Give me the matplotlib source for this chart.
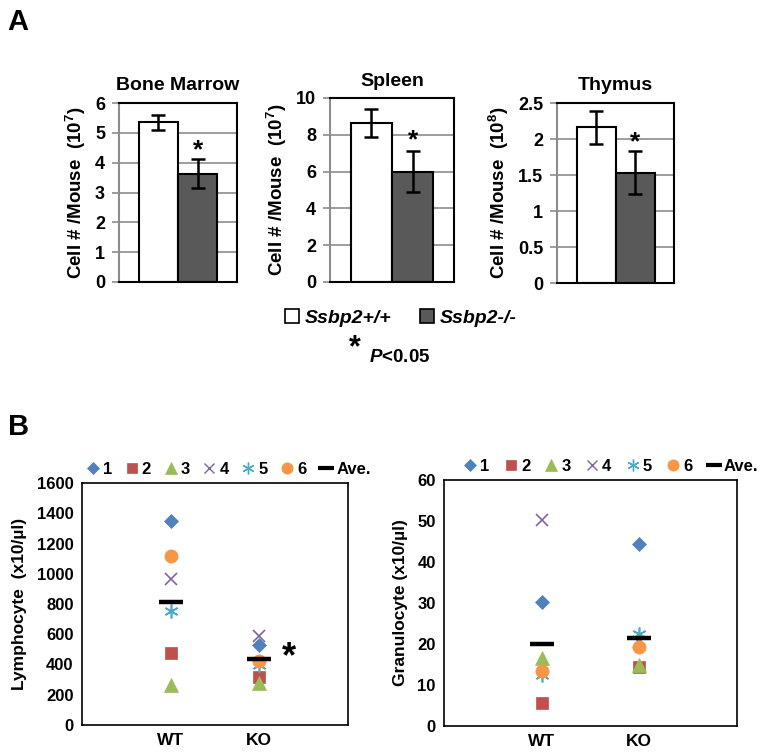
import matplotlib
matplotlib.use("Agg")
import matplotlib.pyplot as plt
from matplotlib.lines import Line2D
from matplotlib.patches import Patch

plt.rcParams["font.family"] = ["Liberation Sans", "DejaVu Sans"]
plt.rcParams["font.weight"] = "bold"
plt.rcParams["mathtext.fontset"] = "custom"
plt.rcParams["mathtext.rm"] = "Liberation Sans:bold"
plt.rcParams["mathtext.it"] = "Liberation Sans:bold:italic"
plt.rcParams["mathtext.bf"] = "Liberation Sans:bold"

# panel A: cell counts per mouse
organs = ["Bone Marrow", "Spleen", "Thymus"]
organ_units = ["$(10^7)$", "$(10^7)$", "$(10^8)$"]
wt_mean = [5.35, 8.65, 2.16]
wt_err = [0.25, 0.75, 0.23]
ko_mean = [3.63, 6.0, 1.53]
ko_err = [0.48, 1.1, 0.30]
organ_ymax = [6, 10, 2.5]
organ_ystep = [1, 2, 0.5]
star_y = [4.4, 7.7, 1.96]

# panel B: blood counts, six mice per genotype
genotypes = ["WT", "KO"]
mice = ["1", "2", "3", "4", "5", "6"]
lymph_wt = [1350, 477, 262, 965, 753, 1115]
lymph_ko = [528, 320, 276, 589, 397, 426]
lymph_ave = [815, 437]
gran_wt = [30.3, 5.6, 16.6, 50.2, 12.4, 13.4]
gran_ko = [44.3, 14.3, 15.0, 20.5, 22.4, 19.3]
gran_ave = [19.9, 21.5]

colors = ["#4F81BD", "#C0504D", "#9BBB59", "#8064A2", "#4BACC6", "#F79646"]
markers = ["D", "s", "^", "x", (6, 2, 0), "o"]
msizes = [7.5, 9, 9.5, 9, 10, 9.5]

W, H = 762, 753
fig = plt.figure(figsize=(W / 100, H / 100), dpi=100)


def box(l, r, t, b):
    return [l / W, 1 - b / H, (r - l) / W, (b - t) / H]


def is_thin(m):
    return m == "x" or isinstance(m, tuple)


a_boxes = [box(119, 237, 103, 282), box(330, 454, 98, 282), box(557, 674, 103, 283)]

for i, name in enumerate(organs):
    ax = fig.add_axes(a_boxes[i])
    ax.set_axisbelow(True)
    ax.bar([0], [wt_mean[i]], width=1.0, color="white", edgecolor="black", lw=1.5,
           yerr=[wt_err[i]], capsize=5, error_kw=dict(lw=1.8, capthick=1.8))
    ax.bar([1], [ko_mean[i]], width=1.0, color="#595959", edgecolor="black", lw=1.5,
           yerr=[ko_err[i]], capsize=5, error_kw=dict(lw=1.8, capthick=1.8))
    ax.text(1, star_y[i], "*", ha="center", va="center", fontsize=19)
    ax.set_xlim(-1, 2)
    ax.set_ylim(0, organ_ymax[i])
    n = int(round(organ_ymax[i] / organ_ystep[i]))
    ticks = [organ_ystep[i] * k for k in range(n + 1)]
    ax.set_yticks(ticks)
    ax.set_yticklabels(["%g" % t for t in ticks], fontsize=13, fontweight="bold")
    ax.set_xticks([])
    ax.yaxis.grid(True, color="#8C8C8C", lw=1.2)
    ax.tick_params(axis="y", length=5, width=1.2, color="#8C8C8C", pad=5)
    for s in ["top", "right", "bottom"]:
        ax.spines[s].set_color("black")
        ax.spines[s].set_linewidth(1.5)
    ax.spines["left"].set_color("#8C8C8C")
    ax.spines["left"].set_linewidth(1.5)
    ax.set_title(name, fontsize=14, fontweight="bold", pad=9)
    ax.set_ylabel("Cell # /Mouse  " + organ_units[i], fontsize=13.5, fontweight="bold",
                  labelpad=5)

# legend for panel A
fig.legend(
    handles=[Patch(facecolor="white", edgecolor="black", lw=1.2),
             Patch(facecolor="#595959", edgecolor="black", lw=1.2)],
    labels=["Ssbp2+/+", "Ssbp2-/-"], ncol=2, frameon=False,
    loc="center", bbox_to_anchor=(401 / W, 1 - 318 / H),
    handlelength=0.7, handleheight=0.7, handletextpad=0.3, columnspacing=1.5,
    prop=dict(size=14, weight="bold", style="italic"))

fig.text(355 / W, 1 - 348 / H, "*", fontsize=22, fontweight="bold", ha="center", va="center")
fig.text(369 / W, 1 - 357 / H, "$\\mathit{P}$<0.05", fontsize=13.5, fontweight="bold",
         ha="left", va="center")

fig.text(7 / W, 1 - 22 / H, "A", fontsize=21, fontweight="bold", ha="left", va="center")
fig.text(8 / W, 1 - 427 / H, "B", fontsize=21, fontweight="bold", ha="left", va="center")

# panel B
b_boxes = [box(82, 348, 483, 725), box(444, 737, 480, 726)]
b_data = [(lymph_wt, lymph_ko, lymph_ave), (gran_wt, gran_ko, gran_ave)]
b_ylabels = ["Lymphocyte  (x10/\u00b5l)", "Granulocyte (x10/\u00b5l)"]
b_ymax = [1600, 60]
b_ystep = [200, 10]
b_leg_x = [0.547, 0.567]
b_leg_gap = [0.68, 0.78]

for j in range(2):
    ax = fig.add_axes(b_boxes[j])
    wt, ko, ave = b_data[j]
    for k in range(len(mice)):
        ax.plot([1, 2], [wt[k], ko[k]], ls="none", marker=markers[k],
                ms=msizes[k], color=colors[k], mew=1.2 if is_thin(markers[k]) else 0.5,
                label=mice[k])
    ax.plot([1, 2], ave, ls="none", marker="_", ms=17, mew=3.2,
            color="black", label="Ave.")
    ax.set_xlim(0, 3)
    ax.set_ylim(0, b_ymax[j])
    n = int(round(b_ymax[j] / b_ystep[j]))
    ticks = [b_ystep[j] * k for k in range(n + 1)]
    ax.set_yticks(ticks)
    ax.set_yticklabels(["%g" % t for t in ticks], fontsize=12, fontweight="bold")
    ax.set_xticks([1, 2])
    ax.set_xticklabels(genotypes, fontsize=12.5, fontweight="bold")
    ax.tick_params(length=0, pad=6)
    for s in ax.spines.values():
        s.set_linewidth(1.2)
    ax.set_ylabel(b_ylabels[j], fontsize=12.5, fontweight="bold", labelpad=7)
    if j == 0:
        ax.text(2.33, 445, "*", fontsize=26, fontweight="bold", ha="center", va="center")

    small = [Line2D([], [], ls="none", marker=markers[k], color=colors[k],
                    ms=msizes[k] * 0.85, mew=1.0 if is_thin(markers[k]) else 0.5)
             for k in range(len(mice))]
    small.append(Line2D([], [], ls="none", marker="_", ms=11, mew=3, color="black"))
    ax.legend(small, mice + ["Ave."], ncol=7, frameon=False, loc="lower center",
              bbox_to_anchor=(b_leg_x[j], 0.985), handlelength=1.0,
              handletextpad=0.1, columnspacing=b_leg_gap[j], borderaxespad=0.2,
              prop=dict(size=12, weight="bold"))

fig.savefig("out.png", dpi=100)
